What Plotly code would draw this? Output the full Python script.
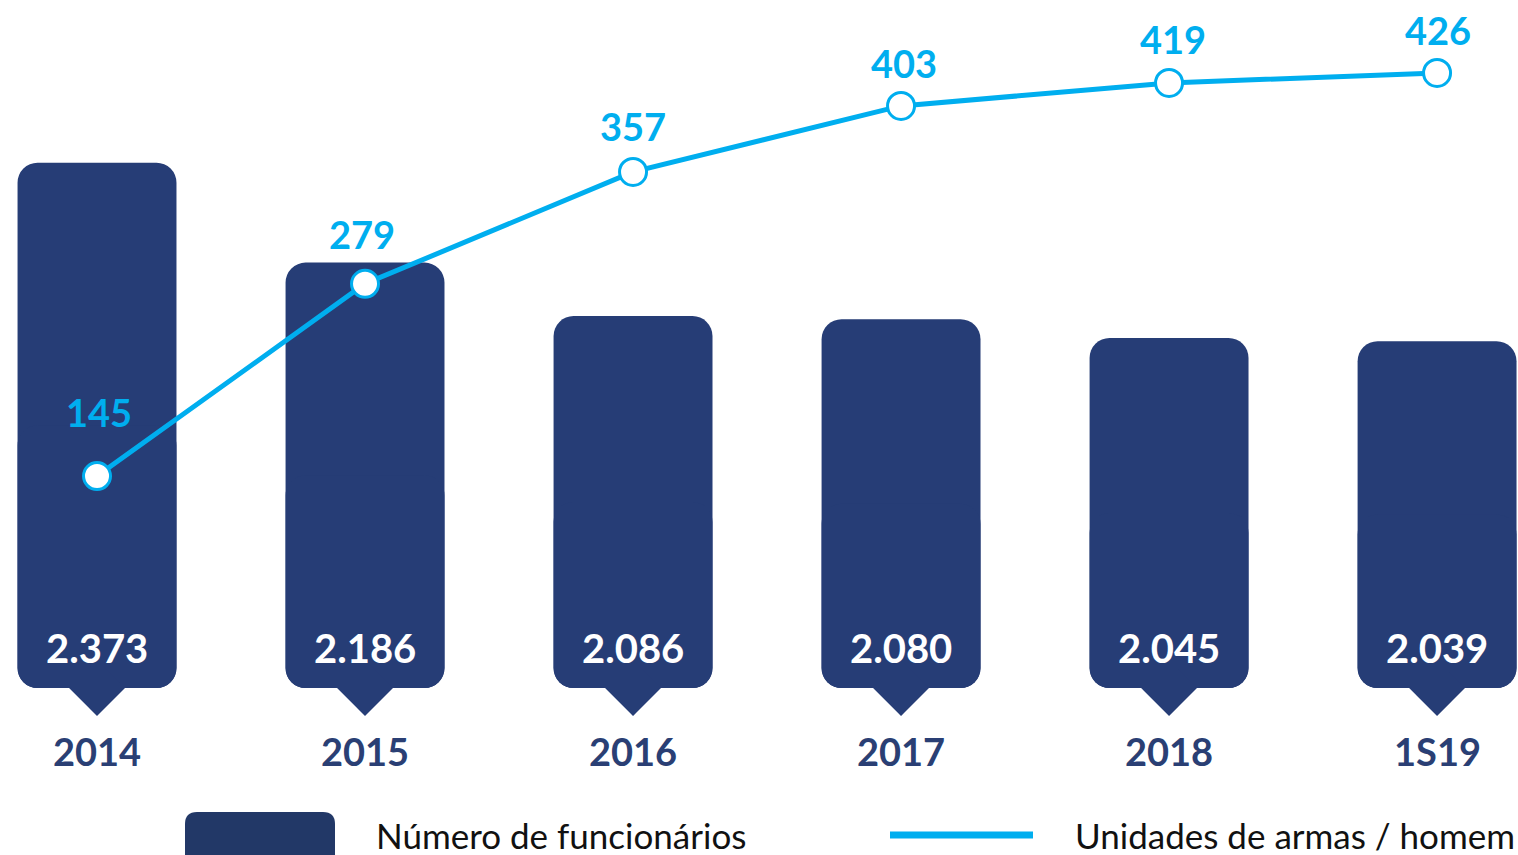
import plotly.graph_objects as go

# ---- data ----
categories = ["2014", "2015", "2016", "2017", "2018", "1S19"]
funcionarios = [2373, 2186, 2086, 2080, 2045, 2039]
armas_por_homem = [145, 279, 357, 403, 419, 426]

# ---- style ----
NAVY = "#263D76"
NAVY_LEG = "#223867"
CYAN = "#00AEEF"
FONT = "Lato"
BAR_BASE = 1390          # visual baseline of the bars (value axis)
BAR_WIDTH = 0.593
label_yshift = [64, 50, 46, 43, 44, 43]
label_xshift = [2, -3, 0, 3, 4, 1]

fig = go.Figure()

# main bar body (rounded top)
fig.add_trace(go.Bar(
    x=categories, y=[v - BAR_BASE for v in funcionarios], base=[BAR_BASE] * len(categories),
    width=BAR_WIDTH, marker=dict(color=NAVY, cornerradius=20, line=dict(width=0)),
    hoverinfo="skip", showlegend=False, yaxis="y"))
# lower half drawn downward so the bottom corners are rounded too
fig.add_trace(go.Bar(
    x=categories, y=[-(v - BAR_BASE) / 2 for v in funcionarios],
    base=[(v + BAR_BASE) / 2 for v in funcionarios],
    width=BAR_WIDTH, marker=dict(color=NAVY, cornerradius=20, line=dict(width=0)),
    hoverinfo="skip", showlegend=False, yaxis="y"))
# pointer under each bar
fig.add_trace(go.Scatter(
    x=categories, y=[BAR_BASE] * len(categories), mode="markers",
    marker=dict(symbol="diamond", size=43, color=NAVY, line=dict(width=0)),
    hoverinfo="skip", showlegend=False, yaxis="y"))

# line on secondary axis
fig.add_trace(go.Scatter(
    x=categories, y=armas_por_homem, mode="lines+markers", yaxis="y2",
    line=dict(color=CYAN, width=5),
    marker=dict(size=27, color="white", line=dict(color=CYAN, width=3)),
    showlegend=False, name="Unidades de armas / homem"))

annotations = []
for i, (c, v) in enumerate(zip(categories, funcionarios)):
    annotations.append(dict(
        x=i, y=BAR_BASE, xref="x", yref="y", yshift=40, showarrow=False,
        text=f"{v:,}".replace(",", "."), yanchor="middle",
        font=dict(family=FONT, size=40, color="white", weight="bold")))
    annotations.append(dict(
        x=i, y=BAR_BASE, xref="x", yref="y", yshift=-63, showarrow=False,
        text=c, yanchor="middle",
        font=dict(family=FONT, size=38, color="#2A3F74", weight="bold")))
for i, (v, ys, xs) in enumerate(zip(armas_por_homem, label_yshift, label_xshift)):
    annotations.append(dict(
        x=i, y=v, xref="x", yref="y2", yshift=ys, xshift=xs, showarrow=False,
        text=str(v), yanchor="middle",
        font=dict(family=FONT, size=38, color=CYAN, weight="bold")))

# custom legend
W, H = 1518, 855
def px(x):
    return x / W
def py(y):
    return 1 - y / H

r = 12
x0, x1, y0, y1 = 185, 335, 812, 870
path = (f"M {px(x0)},{py(y1)} L {px(x0)},{py(y0 + r)} Q {px(x0)},{py(y0)} {px(x0 + r)},{py(y0)} "
        f"L {px(x1 - r)},{py(y0)} Q {px(x1)},{py(y0)} {px(x1)},{py(y0 + r)} L {px(x1)},{py(y1)} Z")
shapes = [
    dict(type="path", xref="paper", yref="paper", path=path, fillcolor=NAVY_LEG, line=dict(width=0)),
    dict(type="line", xref="paper", yref="paper", x0=px(890), x1=px(1033), y0=py(835), y1=py(835),
         line=dict(color=CYAN, width=7)),
]
annotations.append(dict(x=px(374), y=py(835), xref="paper", yref="paper", xanchor="left", yanchor="middle",
                        showarrow=False, text="Número de funcionários",
                        font=dict(family=FONT, size=35, color="#111111")))
annotations.append(dict(x=px(1073), y=py(835), xref="paper", yref="paper", xanchor="left", yanchor="middle",
                        showarrow=False, text="Unidades de armas / homem",
                        font=dict(family=FONT, size=35, color="#111111")))

fig.update_layout(
    width=W, height=H, margin=dict(l=0, r=0, t=0, b=0),
    paper_bgcolor="white", plot_bgcolor="white",
    barmode="overlay",
    xaxis=dict(type="category", range=[-0.362, 5.302], showticklabels=False, showgrid=False,
               zeroline=False, showline=False, ticks=""),
    yaxis=dict(range=[1077.5, 2677.4], visible=False, showgrid=False, zeroline=False),
    yaxis2=dict(range=[-119.1, 476.8], overlaying="y", visible=False, showgrid=False, zeroline=False),
    annotations=annotations, shapes=shapes,
    showlegend=False,
)

fig.write_html("out.html", config={"displayModeBar": False},
               post_script="document.body.style.margin='0';document.body.style.overflow='hidden';")
